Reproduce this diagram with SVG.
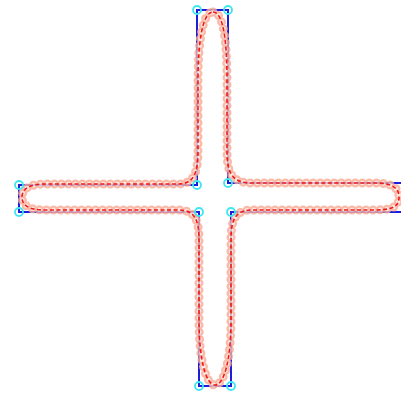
<svg xmlns="http://www.w3.org/2000/svg" width="401" height="395" viewBox="0 0 401 395">
<style>
.poly{fill:none;stroke:#1c1cdc;stroke-width:2}
.v{fill:none;stroke:#3ee6f2;stroke-width:1.8}
.dots1{fill:none;stroke:#f8ab96;stroke-width:9;stroke-linecap:round;stroke-dasharray:0 7}
.dots2{fill:none;stroke:#fde3db;stroke-width:4.5;stroke-linecap:round;stroke-dasharray:0 7}
.curve{fill:none;stroke:#f01818;stroke-width:1.6;stroke-dasharray:4 2.5}
</style>
<defs>
<path id="c" d="M213,12 C224,12 227,45 227,80 L227,150 C227,172 231,183 252,183 L375,183 C395,183 399,190 399,197 C399,205 395,210 375,210 L252,210 C235,210 231,220 231,240 L231,320 C231,360 224,385 215,385 C206,385 199,360 199,320 L199,240 C199,220 195,210 178,210 L45,210 C28,210 22,205 22,197 C22,190 28,184 45,184 L178,184 C194,184 198,173 198,150 L198,80 C198,45 202,12 213,12 Z"/>
</defs>
<rect width="401" height="395" fill="#fff"/>
<g id="polygon">
<polygon class="poly" points="197,10 228,10 228,183 403,183 403,212 231,212 231,386 199,386 199,212 19,212 19,185 197,185"/>
</g>
<g id="curve-markers" opacity="0.82">
<use href="#c" class="dots1"/>
<use href="#c" class="dots2"/>
</g>
<g id="curve">
<use href="#c" class="curve"/>
</g>
<g id="vertices">
<circle class="v" cx="197" cy="10" r="4"/>
<circle class="v" cx="228" cy="10" r="4"/>
<circle class="v" cx="228" cy="183" r="4"/>
<circle class="v" cx="197" cy="185" r="4"/>
<circle class="v" cx="19" cy="185" r="4"/>
<circle class="v" cx="19" cy="212" r="4"/>
<circle class="v" cx="199" cy="212" r="4"/>
<circle class="v" cx="231" cy="212" r="4"/>
<circle class="v" cx="199" cy="386" r="4"/>
<circle class="v" cx="231" cy="386" r="4"/>
</g>
</svg>
